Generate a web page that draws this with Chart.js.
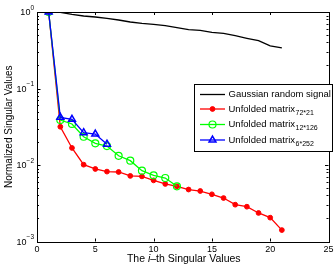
<!DOCTYPE html>
<html>
<head>
<meta charset="utf-8">
<script src="https://cdn.jsdelivr.net/npm/chart.js@4.4.1/dist/chart.umd.min.js"></script>
<style>
  html, body { margin: 0; padding: 0; background: #fff; }
  #wrap { width: 334px; height: 266px; }
</style>
</head>
<body>
<div id="wrap"><canvas id="chartSv"></canvas></div>
<script>
// singular values
const gaussianX = [1, 2, 3, 4, 5, 6, 7, 8, 9, 10, 11, 12, 13, 14, 15, 16, 17, 18, 19, 20, 21];
const gaussianY = [1.0, 0.99, 0.933, 0.887, 0.86, 0.826, 0.786, 0.74, 0.71, 0.69, 0.662, 0.624, 0.587, 0.575, 0.542, 0.526, 0.49, 0.453, 0.422, 0.36, 0.339];

const matrix72X = [1, 2, 3, 4, 5, 6, 7, 8, 9, 10, 11, 12, 13, 14, 15, 16, 17, 18, 19, 20, 21];
const matrix72Y = [1.0, 0.0316, 0.0167, 0.0101, 0.00887, 0.0082, 0.0081, 0.0072, 0.0071, 0.0063, 0.00565, 0.00526, 0.00478, 0.00457, 0.00414, 0.0037, 0.00303, 0.00285, 0.00236, 0.00205, 0.00141];

const matrix12X = [1, 2, 3, 4, 5, 6, 7, 8, 9, 10, 11, 12];
const matrix12Y = [1.0, 0.0387, 0.0344, 0.0234, 0.0192, 0.0177, 0.0132, 0.0114, 0.00843, 0.00733, 0.00676, 0.00526];

const matrix6X = [1, 2, 3, 4, 5, 6];
const matrix6Y = [1.0, 0.042, 0.0396, 0.0264, 0.0254, 0.0187];

const seriesLabels = ["Gaussian random signal", "Unfolded matrix", "Unfolded matrix", "Unfolded matrix"];
const seriesSubs = ["", "72*21", "12*126", "6*252"];

const xTicks = [0, 5, 10, 15, 20, 25];
const yTicks = [1, 0.1, 0.01, 0.001];
const yTickExp = ["0", "\u22121", "\u22122", "\u22123"];

const toPoints = (xs, ys) => xs.map((x, i) => ({ x: x, y: ys[i] }));

const FONT = "'Liberation Sans', Arial, Helvetica, sans-serif";

// axes box, inward ticks, tick labels, titles and the legend
const matlabAxes = {
  id: "matlabAxes",
  afterDraw(chart) {
    const ctx = chart.ctx;
    const area = chart.chartArea;
    const xs = chart.scales.x;
    const ys = chart.scales.y;

    ctx.save();
    ctx.strokeStyle = "#000";
    ctx.lineWidth = 1;
    ctx.strokeRect(Math.round(area.left) + 0.5, Math.round(area.top) + 0.5,
      Math.round(area.right - area.left), Math.round(area.bottom - area.top));

    ctx.beginPath();
    xTicks.forEach((t) => {
      const px = Math.round(xs.getPixelForValue(t)) + 0.5;
      ctx.moveTo(px, area.bottom); ctx.lineTo(px, area.bottom - 3);
      ctx.moveTo(px, area.top); ctx.lineTo(px, area.top + 3);
    });
    for (let d = -3; d <= 0; d++) {
      for (let m = 1; m <= 9; m++) {
        const v = m * Math.pow(10, d);
        if (v > 1) break;
        const py = Math.round(ys.getPixelForValue(v)) + 0.5;
        const len = m === 1 ? 3.5 : 2;
        ctx.moveTo(area.left, py); ctx.lineTo(area.left + len, py);
        ctx.moveTo(area.right, py); ctx.lineTo(area.right - len, py);
      }
    }
    ctx.stroke();

    ctx.fillStyle = "#000";
    ctx.font = "9px " + FONT;
    ctx.textAlign = "center";
    ctx.textBaseline = "middle";
    xTicks.forEach((t) => {
      ctx.fillText(String(t), xs.getPixelForValue(t), area.bottom + 8);
    });

    yTicks.forEach((t, i) => {
      const py = ys.getPixelForValue(t);
      ctx.font = "6.5px " + FONT;
      ctx.textAlign = "left";
      const ew = ctx.measureText(yTickExp[i]).width;
      const ex = area.left - 3 - ew;
      ctx.fillText(yTickExp[i], ex, py - 4);
      ctx.font = "9px " + FONT;
      ctx.textAlign = "right";
      ctx.fillText("10", ex, py + 1);
    });

    // x title with italic i
    ctx.font = "10.5px " + FONT;
    const partA = "The ";
    const partB = "i";
    const partC = "\u2013th Singular Values";
    const wA = ctx.measureText(partA).width;
    const wC = ctx.measureText(partC).width;
    ctx.font = "italic 10.5px " + FONT;
    const wB = ctx.measureText(partB).width;
    let tx = (area.left + area.right) / 2 - (wA + wB + wC) / 2 + 1;
    const ty = 259;
    ctx.textAlign = "left";
    ctx.font = "10.5px " + FONT;
    ctx.fillText(partA, tx, ty);
    ctx.font = "italic 10.5px " + FONT;
    ctx.fillText(partB, tx + wA, ty);
    ctx.font = "10.5px " + FONT;
    ctx.fillText(partC, tx + wA + wB, ty);

    // y title
    ctx.save();
    ctx.translate(9, (area.top + area.bottom) / 2);
    ctx.rotate(-Math.PI / 2);
    ctx.textAlign = "center";
    ctx.font = "10px " + FONT;
    ctx.fillText("Normalized Singular Values", 0, 0);
    ctx.restore();

    // legend
    const lx = 194, ly = 84, lw = 138, lh = 67;
    ctx.fillStyle = "#fff";
    ctx.fillRect(lx, ly, lw, lh);
    ctx.strokeStyle = "#000";
    ctx.strokeRect(lx + 0.5, ly + 0.5, lw, lh);
    const rows = [94.5, 109, 124.5, 140];
    chart.data.datasets.forEach((ds, i) => {
      const ry = rows[i];
      ctx.strokeStyle = ds.borderColor;
      ctx.lineWidth = ds.borderWidth;
      ctx.beginPath();
      ctx.moveTo(200, ry); ctx.lineTo(225, ry);
      ctx.stroke();
      if (ds.pointRadius > 0) {
        ctx.fillStyle = ds.pointBackgroundColor;
        ctx.strokeStyle = ds.pointBorderColor;
        ctx.lineWidth = ds.pointBorderWidth;
        Chart.helpers.drawPoint(ctx, {
          pointStyle: ds.pointStyle, radius: ds.pointRadius, rotation: 0, borderWidth: ds.pointBorderWidth
        }, 212.5, ry);
      }
      ctx.fillStyle = "#000";
      ctx.font = "9.5px " + FONT;
      ctx.textAlign = "left";
      ctx.fillText(seriesLabels[i], 228.5, ry);
      if (seriesSubs[i]) {
        const w = ctx.measureText(seriesLabels[i]).width;
        ctx.font = "7px " + FONT;
        ctx.fillText(seriesSubs[i], 228.5 + w + 0.5, ry + 4);
      }
    });
    ctx.restore();
  },
};

const chartSvElement = document.querySelector("#chartSv");

const chartSv = new Chart(chartSvElement, {
  type: "line",
  data: {
    datasets: [
      {
        label: seriesLabels[0],
        data: toPoints(gaussianX, gaussianY),
        borderColor: "#000",
        borderWidth: 1.3,
        pointRadius: 0,
        pointStyle: "circle",
        pointBackgroundColor: "#000",
        pointBorderColor: "#000",
        pointBorderWidth: 1,
        order: 3,
      },
      {
        label: seriesLabels[1] + seriesSubs[1],
        data: toPoints(matrix72X, matrix72Y),
        borderColor: "#ff0000",
        borderWidth: 1.3,
        pointStyle: "circle",
        pointRadius: 2.4,
        pointBackgroundColor: "#ff0000",
        pointBorderColor: "#ff0000",
        pointBorderWidth: 1,
        order: 2,
      },
      {
        label: seriesLabels[2] + seriesSubs[2],
        data: toPoints(matrix12X, matrix12Y),
        borderColor: "#00ff00",
        borderWidth: 1.3,
        pointStyle: "circle",
        pointRadius: 3.5,
        pointBackgroundColor: "rgba(0,0,0,0)",
        pointBorderColor: "#00ff00",
        pointBorderWidth: 1.2,
        order: 1,
      },
      {
        label: seriesLabels[3] + seriesSubs[3],
        data: toPoints(matrix6X, matrix6Y),
        borderColor: "#0000ff",
        borderWidth: 1.3,
        pointStyle: "triangle",
        pointRadius: 4,
        pointBackgroundColor: "rgba(0,0,0,0)",
        pointBorderColor: "#0000ff",
        pointBorderWidth: 1.5,
        order: 0,
      },
    ],
  },
  options: {
    responsive: true,
    maintainAspectRatio: false,
    animation: false,
    layout: { padding: { top: 12, right: 5, left: 0, bottom: 0 } },
    scales: {
      x: {
        type: "linear",
        min: 0,
        max: 25,
        grid: { display: false },
        border: { display: false },
        ticks: { display: false },
        afterFit: (scale) => { scale.height = 24.5; },
      },
      y: {
        type: "logarithmic",
        min: 0.001,
        max: 1,
        grid: { display: false },
        border: { display: false },
        ticks: { display: false },
        afterFit: (scale) => { scale.width = 37; },
      },
    },
    plugins: {
      legend: { display: false },
      tooltip: { enabled: false },
    },
  },
  plugins: [matlabAxes],
});
</script>
</body>
</html>
